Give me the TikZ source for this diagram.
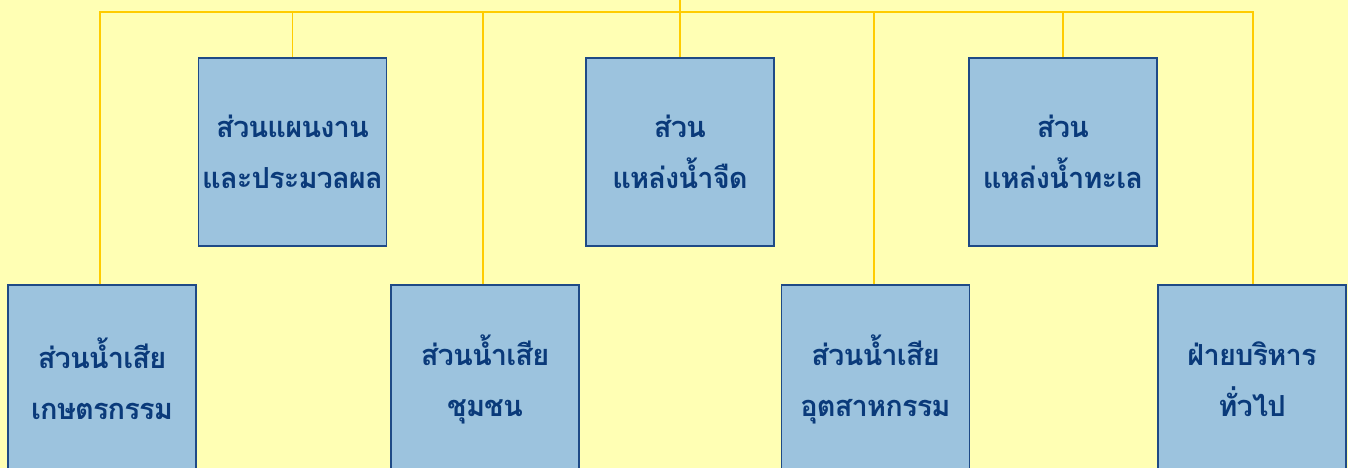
\documentclass[tikz,border=0pt]{standalone}
\usepackage{fontspec}
\newfontfamily\thaifont[Script=Thai,LetterSpace=-3]{Loma}
\definecolor{bgyellow}{HTML}{FFFFB4}
\definecolor{boxfill}{HTML}{9CC3DE}
\definecolor{boxline}{HTML}{1F4A86}
\definecolor{txtblue}{HTML}{0A3A7A}
\definecolor{linegold}{HTML}{FFCC00}
\begin{document}
\begin{tikzpicture}[x=1pt,y=-1pt,
  unit/.style={draw=boxline,line width=1.3pt,fill=boxfill,text width=188pt,minimum height=188pt,
    inner sep=0pt,align=center,text=txtblue,font=\thaifont\bfseries\fontsize{29}{51}\selectfont},
  link/.style={draw=linegold,line width=1.4pt}]
\path[use as bounding box] (0,0) rectangle (1348,468);
\clip (0,0) rectangle (1348,468);
\fill[bgyellow] (0,0) rectangle (1348,468);
% top connector
\coordinate (hl) at (100,12);
\coordinate (hr) at (1253,12);
% top row
\node[unit] (plan) at (292.5,152) {ส่วนแผนงาน\\และประมวลผล};
\node[unit] (fresh) at (680,152) {ส่วน\\แหล่งน้ำจืด};
\node[unit] (sea) at (1063,152) {ส่วน\\แหล่งน้ำทะเล};
\coordinate (top) at (680,-5);
% bottom row
\node[unit] (agri) at (102,379) {ส่วนน้ำเสีย\\เกษตรกรรม};
\node[unit] (comm) at (485,379) {ส่วนน้ำเสีย\\ชุมชน};
\node[unit] (ind) at (875.5,379) {ส่วนน้ำเสีย\\อุตสาหกรรม};
\node[unit] (adm) at (1252,379) {ฝ่ายบริหาร\\ทั่วไป};
% connectors
\draw[link] (top) -- (fresh.north);
\draw[link] (agri.north -| hl) -- (hl) -- (hr) -- (adm.north -| hr);
\draw[link] (plan.north |- hl) -- (plan.north);
\draw[link] (sea.north |- hl) -- (sea.north);
\draw[link] (comm.north -| 483,0) -- (483,12);
\draw[link] (ind.north -| 874,0) -- (874,12);
\end{tikzpicture}
\end{document}
